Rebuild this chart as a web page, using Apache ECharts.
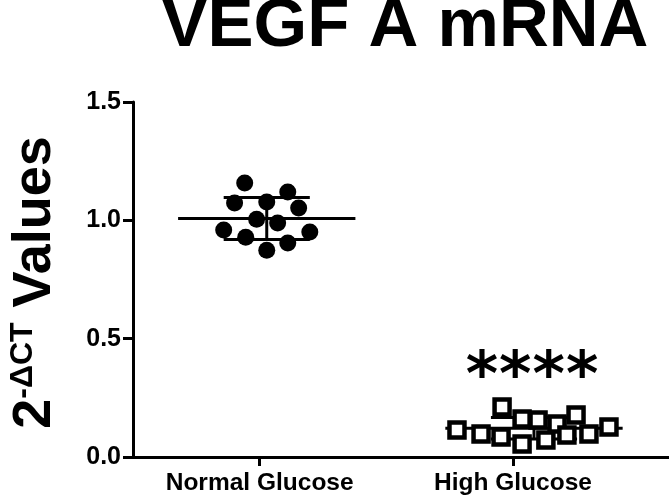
<!DOCTYPE html>
<html><head><meta charset="utf-8">
<script src="https://cdn.jsdelivr.net/npm/echarts@6/dist/echarts.min.js"></script>
<style>html,body{margin:0;padding:0;background:#fff}#c{width:669px;height:501px}</style>
</head><body><div id="c"></div>
<script>
var categories = ['Normal Glucose', 'High Glucose'];
var categoryPos = [1, 2];
var groupCenters = [1.028, 2.083];
var normalX = [0.941, 1.111, 0.901, 1.028, 1.154, 0.988, 1.071, 0.858, 1.198, 0.945, 1.111, 1.028];
var normalY = [1.158, 1.12, 1.073, 1.077, 1.052, 1.005, 0.989, 0.959, 0.951, 0.929, 0.904, 0.874];
var highX = [1.957, 1.779, 1.874, 1.953, 2.036, 2.036, 2.099, 2.174, 2.249, 2.379, 2.300, 2.213, 2.130];
var highY = [0.211, 0.114, 0.097, 0.084, 0.161, 0.055, 0.156, 0.139, 0.177, 0.127, 0.097, 0.093, 0.072];
var yTicks = [0, 0.5, 1.0, 1.5];
var significance = '****';
var sigY = 0.385;

function stats(a){var m=a.reduce(function(s,v){return s+v;},0)/a.length;var v=a.reduce(function(s,x){return s+(x-m)*(x-m);},0)/(a.length-1);return [m,Math.sqrt(v)];}
var sN = stats(normalY), sH = stats(highY);
var errData = [[groupCenters[0], sN[0], sN[1]], [groupCenters[1], sH[0], sH[1]]];

var font = '"Liberation Sans", Arial, sans-serif';
var starRich = significance.split('').map(function(c){return '{a|' + c + '}';}).join('');
var chart = echarts.init(document.getElementById('c'), null, {renderer:'canvas'});
chart.setOption({
  animation:false,
  title:{text:'VEGF A mRNA', left:400, textAlign:'center', top:-13,
    textStyle:{fontFamily:font, fontWeight:'bold', fontSize:69, color:'#000'}},
  grid:{left:133, right:0, top:102, bottom:44, containLabel:false, outerBoundsMode:'none'},
  xAxis:{type:'value', min:0.5, max:2.616, splitLine:{show:false},
    axisLine:{show:true, onZero:false, lineStyle:{color:'#000', width:3}},
    axisTick:{show:true, customValues:categoryPos, length:9, lineStyle:{color:'#000', width:3}},
    axisLabel:{customValues:categoryPos, margin:14, fontFamily:font, fontWeight:'bold', fontSize:24.5, color:'#000',
      formatter:function(v){var i=categoryPos.indexOf(Math.round(v));return i>=0?categories[i]:'';}}},
  yAxis:{type:'value', min:0, max:1.5, interval:0.5, splitLine:{show:false},
    axisLine:{show:true, lineStyle:{color:'#000', width:3}},
    axisTick:{show:true, length:10, lineStyle:{color:'#000', width:3}},
    axisLabel:{margin:12, fontFamily:font, fontWeight:'bold', fontSize:25, color:'#000',
      formatter:function(v){return v.toFixed(1);}},
    name:'{b|2}{s|-ΔCT}{b| Values}', nameLocation:'middle', nameRotate:90, nameGap:70,
    nameTextStyle:{padding:[0,6,0,0], rich:{
      b:{fontFamily:font, fontWeight:'bold', fontSize:54, color:'#000', lineHeight:56},
      s:{fontFamily:font, fontWeight:'bold', fontSize:32, color:'#000', lineHeight:46, verticalAlign:'top'}
    }}},
  series:[
    {type:'custom', z:3, data:errData, renderItem:function(params, api){
      var cx=api.value(0), m=api.value(1), sd=api.value(2);
      var st={stroke:'#000', lineWidth:3};
      var p=function(x,y){return api.coord([x,y]);};
      var mw=0.35, cw=0.17;
      var a=p(cx-mw,m), b=p(cx+mw,m), t1=p(cx-cw,m+sd), t2=p(cx+cw,m+sd), b1=p(cx-cw,m-sd), b2=p(cx+cw,m-sd), vt=p(cx,m+sd), vb=p(cx,m-sd);
      return {type:'group', children:[
        {type:'line', shape:{x1:a[0],y1:a[1],x2:b[0],y2:b[1]}, style:st},
        {type:'line', shape:{x1:t1[0],y1:t1[1],x2:t2[0],y2:t2[1]}, style:st},
        {type:'line', shape:{x1:b1[0],y1:b1[1],x2:b2[0],y2:b2[1]}, style:st},
        {type:'line', shape:{x1:vt[0],y1:vt[1],x2:vb[0],y2:vb[1]}, style:st}
      ]};
    }},
    {type:'scatter', z:4, symbol:'circle', symbolSize:17, itemStyle:{color:'#000', opacity:1},
      data:normalX.map(function(x,i){return [x, normalY[i]];})},
    {type:'scatter', z:4, symbol:'rect', symbolSize:15, itemStyle:{color:'#fff', borderColor:'#000', borderWidth:4.5, opacity:1},
      data:highX.map(function(x,i){return [x, highY[i]];})},
    {type:'scatter', z:5, symbolSize:0, silent:true, itemStyle:{opacity:1},
      data:[[groupCenters[1], sigY]],
      label:{show:true, position:'inside', opacity:1, formatter:starRich, color:'#000',
        rich:{a:{fontFamily:'"DejaVu Sans"', fontWeight:'bold', fontSize:62, color:'#000', padding:[0,0.5]}}, offset:[-2,13]}}
  ]
});
</script></body></html>
